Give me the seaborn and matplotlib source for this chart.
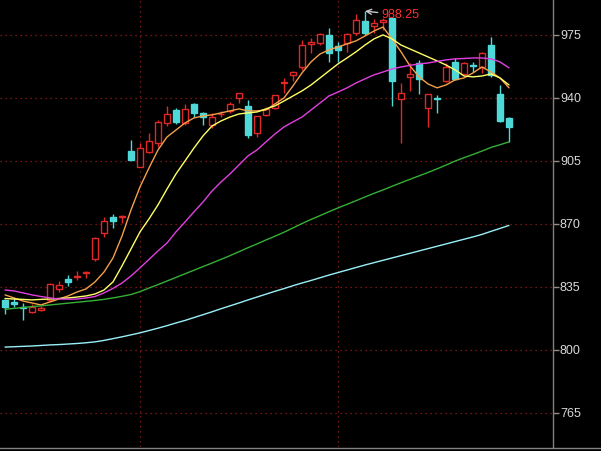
import numpy as np
import pandas as pd
import matplotlib
matplotlib.use('Agg')
import matplotlib.pyplot as plt
import seaborn as sns

# daily candles
opens = [827.5, 826.7, 823.9, 821.3, 822.2, 827.8, 833.9, 839.6, 840.6, 842.8,
         850.6, 864.8, 873.7, 873.6, 910.7, 901.8, 909.8, 914.8, 925.9, 933.3,
         925.9, 936.7, 931.4, 925.0, 930.8, 932.8, 939.8, 935.6, 920.7, 930.6,
         934.3, 948.3, 952.8, 957.4, 969.8, 970.4, 975.0, 968.9, 970.4, 975.9,
         982.9, 980.0, 982.4, 984.2, 939.4, 951.8, 959.6, 934.3, 939.7, 949.6,
         960.2, 953.3, 958.1, 957.1, 969.4, 942.2, 928.7]
highs = [828.3, 828.9, 826.1, 825.6, 824.4, 837.2, 838.3, 841.7, 844.1, 843.6,
         862.9, 874.1, 875.6, 875.2, 916.7, 915.2, 920.4, 927.8, 935.6, 934.3,
         936.7, 937.4, 932.1, 931.5, 933.0, 938.0, 942.6, 938.9, 930.0, 935.2,
         941.7, 951.0, 955.0, 972.2, 973.2, 976.3, 978.7, 971.3, 975.9, 986.7,
         988.25, 983.7, 984.3, 984.3, 948.5, 959.3, 961.1, 942.1, 941.7, 959.3,
         962.1, 960.2, 960.2, 965.7, 973.7, 947.2, 929.3]
lows = [820.0, 823.6, 816.7, 820.6, 821.4, 826.7, 832.2, 835.6, 838.9, 840.0,
        849.4, 862.6, 867.6, 870.4, 905.6, 901.5, 909.3, 912.9, 924.6, 925.4,
        925.0, 929.6, 925.0, 923.2, 929.6, 931.5, 937.1, 917.9, 918.5, 930.0,
        933.7, 942.6, 949.6, 955.6, 965.2, 969.4, 960.2, 960.2, 965.7, 975.0,
        975.0, 975.9, 977.8, 935.6, 915.2, 944.1, 942.2, 924.1, 931.5, 949.1,
        950.0, 952.8, 954.6, 953.7, 951.8, 926.8, 915.7]
closes = [823.9, 825.6, 823.1, 824.1, 823.3, 836.7, 836.1, 837.8, 841.1, 843.1,
          862.2, 871.7, 871.5, 874.2, 905.6, 912.1, 916.1, 926.5, 930.9, 926.8,
          933.7, 931.8, 929.2, 929.6, 931.1, 936.5, 942.6, 919.4, 930.0, 933.7,
          941.7, 948.7, 954.4, 969.4, 971.3, 975.6, 964.8, 966.7, 975.6, 983.3,
          976.3, 981.5, 983.1, 949.4, 942.6, 953.3, 950.6, 942.1, 939.2, 957.4,
          950.4, 959.3, 957.5, 965.2, 952.8, 927.4, 924.1]

# moving average lines
ma5 = [830.6, 828.9, 827.2, 826.1, 825.0, 826.7, 828.3, 830.0, 832.2, 833.9,
       837.8, 843.3, 851.1, 863.3, 877.8, 890.6, 901.1, 911.1, 918.3, 922.2,
       926.1, 928.9, 930.0, 930.6, 931.7, 932.8, 933.9, 932.8, 932.8, 933.3,
       936.7, 940.0, 946.7, 953.9, 960.0, 964.4, 966.7, 968.3, 970.0, 971.7,
       974.4, 977.2, 979.4, 972.8, 965.6, 957.8, 951.7, 947.8, 945.6, 947.2,
       950.0, 951.1, 953.9, 957.2, 954.4, 951.1, 945.6]
ma10 = [828.6, 828.3, 828.1, 827.8, 828.1, 828.3, 828.6, 828.9, 829.4, 830.0,
        831.1, 833.3, 837.8, 846.7, 856.1, 865.6, 872.8, 880.6, 889.4, 897.8,
        905.0, 912.2, 918.9, 924.4, 927.2, 929.4, 931.1, 931.7, 932.2, 933.9,
        935.6, 938.3, 941.1, 943.9, 947.2, 951.1, 955.0, 958.9, 962.2, 965.6,
        969.4, 972.8, 975.0, 972.8, 969.4, 967.2, 965.0, 962.8, 960.6, 958.3,
        955.6, 952.2, 951.7, 952.2, 953.3, 951.1, 947.2]
ma20 = [833.3, 832.8, 831.7, 830.6, 829.7, 828.9, 828.3, 828.2, 828.3, 828.9,
        829.7, 831.7, 834.2, 837.2, 841.1, 845.6, 850.3, 855.0, 859.4, 865.6,
        871.1, 876.7, 882.2, 888.3, 893.3, 897.8, 902.8, 907.8, 911.1, 915.6,
        920.0, 923.9, 926.7, 929.4, 933.3, 937.2, 941.1, 943.3, 945.6, 948.3,
        950.6, 952.8, 954.4, 956.1, 957.2, 958.1, 958.9, 959.4, 960.3, 961.1,
        961.7, 961.9, 962.2, 962.2, 961.7, 960.0, 956.7]
ma60 = [822.6, 823.1, 823.6, 824.1, 824.5, 825.0, 825.5, 826.0, 826.5, 827.0,
        827.5, 828.1, 828.9, 829.8, 830.8, 832.4, 834.4, 836.3, 838.3, 840.3,
        842.3, 844.3, 846.3, 848.3, 850.3, 852.4, 854.6, 856.8, 858.9, 861.1,
        863.2, 865.4, 867.8, 870.2, 872.5, 874.6, 876.8, 878.9, 880.9, 882.9,
        885.0, 887.0, 888.9, 890.9, 892.9, 894.8, 896.7, 898.6, 900.6, 902.7,
        904.9, 906.8, 908.6, 910.5, 912.5, 914.0, 915.6]
ma120 = [801.6, 801.8, 802.0, 802.2, 802.5, 802.8, 803.0, 803.3, 803.6, 804.0,
         804.5, 805.3, 806.3, 807.3, 808.4, 809.5, 810.8, 812.1, 813.5, 815.0,
         816.4, 818.0, 819.6, 821.2, 822.9, 824.5, 826.1, 827.8, 829.4, 831.0,
         832.6, 834.1, 835.7, 837.2, 838.6, 840.1, 841.6, 843.0, 844.4, 845.8,
         847.2, 848.5, 849.8, 851.1, 852.4, 853.7, 855.0, 856.3, 857.6, 858.9,
         860.2, 861.5, 862.8, 864.2, 865.9, 867.5, 869.2]

y_ticks = [765, 800, 835, 870, 905, 940, 975]
sep_days = [15, 37]

UP = '#e02828'
DOWN = '#4fd8d8'
GRID = '#9a1c1c'

sns.set_theme(style='dark', rc={'axes.facecolor': 'black', 'figure.facecolor': 'black'})
plt.rcParams['font.family'] = ['Liberation Sans', 'DejaVu Sans']

o = np.array(opens); h = np.array(highs); l = np.array(lows); c = np.array(closes)
idx = np.arange(len(o))
up = c >= o

fig = plt.figure(figsize=(6.01, 4.51), dpi=100)
ax = fig.add_axes([0, 4 / 451, 553 / 601, 447 / 451])
ax.grid(False)

for t in y_ticks:
    ax.axhline(t, color=GRID, linestyle=(0, (1, 3)), linewidth=0.9, zorder=1)
for d in sep_days:
    ax.axvline(d, color=GRID, linestyle=(0, (1, 3)), linewidth=0.9, zorder=1)

# candles
ax.vlines(idx, l, h, colors=np.where(up, UP, DOWN), linewidth=1, zorder=2)
body = np.maximum(np.abs(c - o), 0.35)
ax.bar(idx[up], body[up], bottom=np.minimum(o, c)[up], width=0.68,
       facecolor='black', edgecolor=UP, linewidth=1, zorder=3)
ax.bar(idx[~up], body[~up], bottom=np.minimum(o, c)[~up], width=0.68,
       facecolor=DOWN, edgecolor=DOWN, linewidth=1, zorder=3)

ma = pd.DataFrame({'day': idx, 'MA5': ma5, 'MA10': ma10, 'MA20': ma20,
                   'MA60': ma60, 'MA120': ma120})
ma = ma.melt(id_vars='day', var_name='line', value_name='price')
pal = {'MA5': '#f5a04a', 'MA10': '#ffff66', 'MA20': '#e040e0',
       'MA60': '#34b034', 'MA120': '#9af0f8'}
sns.lineplot(data=ma, x='day', y='price', hue='line', palette=pal,
             linewidth=1, legend=False, ax=ax, zorder=4)

pk = int(np.argmax(h))
ax.annotate(f'{h[pk]:.2f}', xy=(pk, h[pk]), xytext=(16, -4), textcoords='offset pixels',
            color='#ff3030', fontsize=9, ha='left', va='center',
            arrowprops=dict(arrowstyle='->', color='#c8c8c8', lw=1,
                            shrinkA=0, shrinkB=0), zorder=5)

ax.set_xlim(-5 / 9, 548 / 9)
ax.set_ylim(746.1, 994.4)
ax.yaxis.tick_right()
ax.set_yticks(y_ticks)
ax.set_xticks([])
ax.set_xlabel('')
ax.set_ylabel('')
ax.tick_params(axis='y', colors='#909090', labelcolor='#d8d8d8', length=4,
               width=1, pad=1, labelsize=9, direction='out', right=True, left=False)
for s in ['left', 'top', 'bottom']:
    ax.spines[s].set_visible(False)
ax.spines['right'].set_color('#808080')
ax.spines['right'].set_linewidth(1)
fig.add_artist(plt.Line2D([0, 1], [3.5 / 451, 3.5 / 451], transform=fig.transFigure,
                          color='#808080', linewidth=1))

fig.savefig('out.png', dpi=100, facecolor='black')
